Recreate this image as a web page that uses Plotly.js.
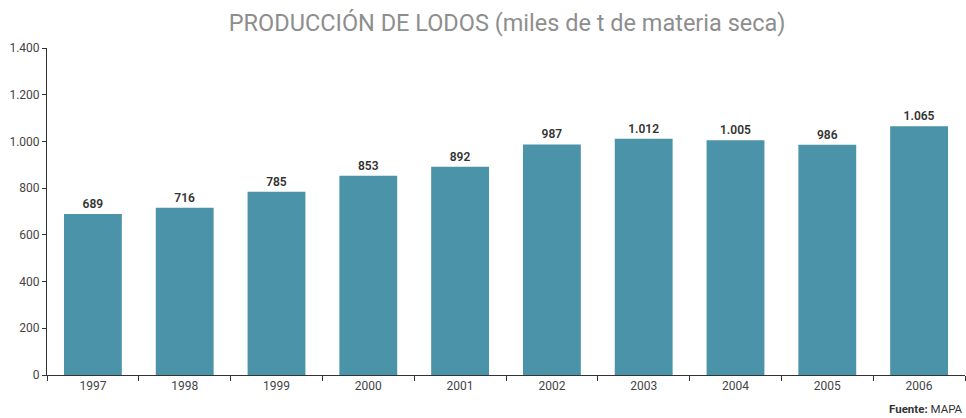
<!DOCTYPE html>
<html>
<head>
<meta charset="utf-8">
<script src="https://cdn.plot.ly/plotly-3.0.1.min.js"></script>
<style>html,body{margin:0;padding:0;background:#fff;}#chart{width:966px;height:418px;}</style>
</head>
<body>
<div id="chart"></div>
<script>
const years = ['1997','1998','1999','2000','2001','2002','2003','2004','2005','2006'];
const values = [689, 716, 785, 853, 892, 987, 1012, 1005, 986, 1065];
const yTicks = [0, 200, 400, 600, 800, 1000, 1200, 1400];
const titleText = 'PRODUCCIÓN DE LODOS (miles de t de materia seca)';
const sourceText = '<b>Fuente:</b> MAPA';

const fontFam = 'Roboto, "DejaVu Sans Condensed", sans-serif';

Plotly.newPlot('chart', [{
  type: 'bar',
  x: years,
  y: values,
  marker: {color: '#4a93a8'},
  text: values,
  texttemplate: '%{y:,d}',
  textposition: 'outside',
  cliponaxis: false,
  textfont: {family: fontFam, size: 12, color: '#333', weight: 600},
  hoverinfo: 'none'
}], {
  width: 966, height: 418,
  margin: {l: 47, r: 1, t: 48, b: 43},
  separators: ',.',
  bargap: 0.37,
  paper_bgcolor: '#fff', plot_bgcolor: '#fff',
  font: {family: fontFam, color: '#444'},
  title: {text: titleText, x: 0.525, xanchor: 'center', y: 0.945, yanchor: 'middle',
          font: {family: fontFam, size: 23.5, color: '#8e8e8e'}},
  xaxis: {
    type: 'category',
    showline: true, linecolor: '#333', linewidth: 1,
    ticks: 'outside', tickson: 'boundaries', ticklen: 5, tickcolor: '#333',
    tickfont: {size: 12, color: '#444'},
    showgrid: false, zeroline: false
  },
  yaxis: {
    range: [0, 1400],
    tickvals: yTicks,
    tickformat: ',d',
    showline: true, linecolor: '#333', linewidth: 1,
    ticks: 'outside', ticklen: 4, tickcolor: '#333',
    tickfont: {size: 12, color: '#444'},
    showgrid: false, zeroline: false
  },
  annotations: [{
    text: sourceText, xref: 'paper', yref: 'paper', x: 1, y: -0.105, yanchor: 'middle',
    xanchor: 'right', showarrow: false, font: {family: fontFam, size: 11.5, color: '#333'}
  }],
  showlegend: false
}, {displayModeBar: false, staticPlot: true});
</script>
</body>
</html>
